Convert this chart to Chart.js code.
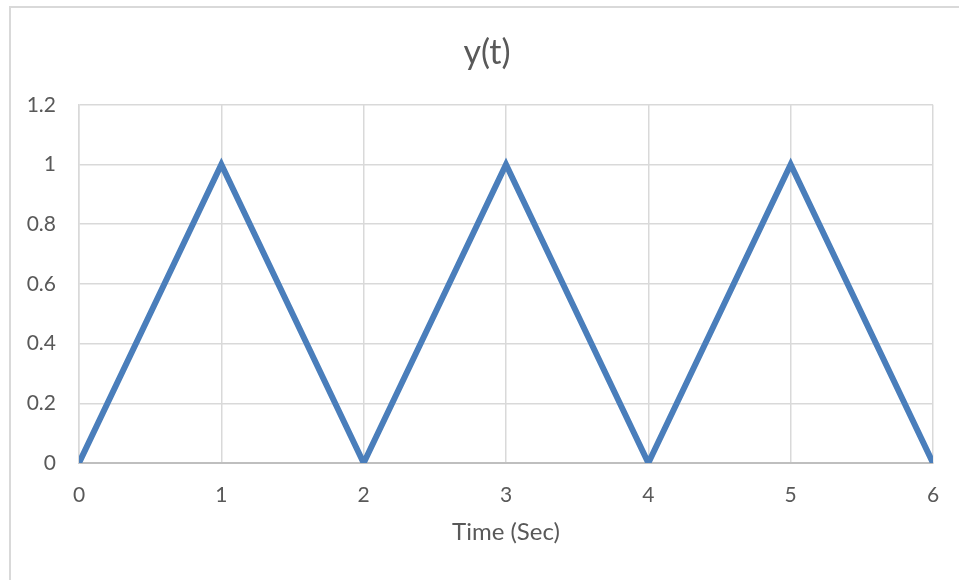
<!DOCTYPE html>
<html>
<head>
<meta charset="utf-8">
<script src="https://cdn.jsdelivr.net/npm/chart.js@4"></script>
<style>
  html, body { margin: 0; padding: 0; background: #fff; }
  #wrap { position: relative; width: 959px; height: 580px; overflow: hidden; }
  #frame { position: absolute; left: 9px; top: 6px; width: 1000px; height: 1000px; border: 2px solid #d9d9d9; box-sizing: border-box; }
  canvas { position: absolute; left: 0; top: 0; }
</style>
</head>
<body>
<div id="wrap">
  <div id="frame"></div>
  <!-- canvas a bit wider than the page so the title centres on the frame -->
  <canvas id="chart" width="974" height="580"></canvas>
</div>
<script>
// triangle wave y(t)
const timeSec = [0, 1, 2, 3, 4, 5, 6];
const yValues = [0, 1, 0, 1, 0, 1, 0];
const yTickLabels = ['0', '0.2', '0.4', '0.6', '0.8', '1', '1.2'];

const points = timeSec.map((t, i) => ({ x: t, y: yValues[i] }));
const fontFamily = 'Lato, "Open Sans", sans-serif';
const textColor = '#595959';

const ctx = document.getElementById('chart').getContext('2d');
window.chart = new Chart(ctx, {
    type: 'scatter',
    data: {
        datasets: [{
            data: points,
            showLine: true,
            borderColor: '#4a7ebb',
            borderWidth: 6,
            pointRadius: 0,
            pointHoverRadius: 0,
            fill: false
        }]
    },
    options: {
        responsive: false,
        animation: false,
        layout: { padding: 0 },
        plugins: {
            legend: { display: false },
            tooltip: { enabled: false },
            title: {
                display: true,
                text: 'y(t)',
                color: textColor,
                font: { family: fontFamily, size: 34, weight: 'normal', lineHeight: 1.2 },
                padding: { top: 33, bottom: 31 }
            }
        },
        scales: {
            x: {
                type: 'linear',
                min: 0,
                max: 6,
                ticks: { stepSize: 1, color: textColor, padding: 20, font: { family: fontFamily, size: 21 } },
                grid: { color: '#d9d9d9', lineWidth: 1.5, drawTicks: false },
                border: { color: '#bfbfbf', width: 2 },
                title: {
                    display: true,
                    text: 'Time (Sec)',
                    color: textColor,
                    font: { family: fontFamily, size: 24, lineHeight: 1.2 },
                    padding: { top: 4, bottom: 33 }
                },
                afterFit: (scale) => { scale.height = 117; }
            },
            y: {
                min: 0,
                max: 1.2,
                ticks: {
                    stepSize: 0.2,
                    color: textColor,
                    padding: 23,
                    font: { family: fontFamily, size: 21 },
                    callback: (value, index) => yTickLabels[index]
                },
                grid: { color: '#d9d9d9', lineWidth: 1.5, drawTicks: false },
                border: { color: '#d9d9d9', width: 1.5 },
                afterFit: (scale) => { scale.width = 79; }
            },
            // empty spacer on the right, keeps the plot edge at 933
            spacer: {
                position: 'right',
                ticks: { display: false },
                grid: { display: false, drawTicks: false },
                border: { display: false },
                afterFit: (scale) => { scale.width = 41; }
            }
        }
    }
});
</script>
</body>
</html>
